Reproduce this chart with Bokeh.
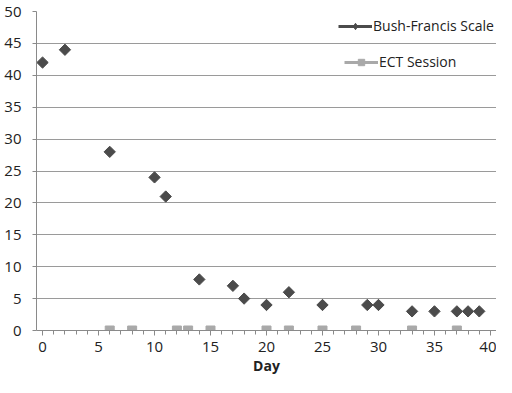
import math
from bokeh.plotting import figure
from bokeh.models import Range1d, Legend, LegendItem, ColumnDataSource, FixedTicker
from bokeh.embed import file_html
from bokeh.resources import INLINE

# Data
bf_days = [0, 2, 6, 10, 11, 14, 17, 18, 20, 22, 25, 29, 30, 33, 35, 37, 38, 39]
bf_scores = [42, 44, 28, 24, 21, 8, 7, 5, 4, 6, 4, 4, 4, 3, 3, 3, 3, 3]
ect_days = [6, 8, 12, 13, 15, 20, 22, 25, 28, 33, 37]
ect_values = [0] * len(ect_days)
x_ticks = [0, 5, 10, 15, 20, 25, 30, 35, 40]
y_ticks = [0, 5, 10, 15, 20, 25, 30, 35, 40, 45, 50]

DARK = "#4b4b4b"
LIGHT = "#a9a9a9"
FONT = "Open Sans"

p = figure(width=496, height=377, output_backend="svg", toolbar_location=None,
           x_range=Range1d(-0.54, 40.54), y_range=Range1d(0, 50),
           min_border_left=36, min_border_right=0, min_border_top=11, min_border_bottom=0)
p.outline_line_color = None
p.background_fill_color = "white"

p.xgrid.grid_line_color = None
p.ygrid.grid_line_color = "#9a9a9a"
p.ygrid.grid_line_width = 1
p.ygrid.ticker = FixedTicker(ticks=y_ticks)

p.xaxis.ticker = FixedTicker(ticks=x_ticks, minor_ticks=list(range(0, 41)))
p.yaxis.ticker = FixedTicker(ticks=y_ticks)
for ax in (p.xaxis[0], p.yaxis[0]):
    ax.axis_line_color = "#8a8a8a"
    ax.major_tick_line_color = "#8a8a8a"
    ax.minor_tick_line_color = "#8a8a8a"
    ax.major_tick_in = 0
    ax.minor_tick_in = 0
    ax.major_label_text_font = FONT
    ax.major_label_text_font_size = "15px"
    ax.major_label_text_color = "#222222"
p.xaxis.major_tick_out = 5
p.xaxis.minor_tick_out = 4
p.xaxis.major_label_standoff = 6
p.yaxis.major_tick_out = 4
p.yaxis.minor_tick_line_color = None
p.yaxis.major_label_standoff = 11
p.xaxis.axis_label = "Day"
p.xaxis.axis_label_text_font = FONT
p.xaxis.axis_label_text_font_style = "bold"
p.xaxis.axis_label_text_font_size = "14px"
p.xaxis.axis_label_text_color = "#222222"
p.xaxis.axis_label_standoff = 1

src_bf = ColumnDataSource(dict(x=bf_days, y=bf_scores))
src_ect = ColumnDataSource(dict(x=ect_days, y=ect_values))

p.scatter("x", "y", source=src_ect, marker="square", size=9,
          fill_color=LIGHT, line_color=LIGHT)
p.scatter("x", "y", source=src_bf, marker="square", size=8, angle=math.pi / 4,
          fill_color=DARK, line_color=DARK)

# legend-only renderers (placed outside the visible range)
off = ColumnDataSource(dict(x=[-100, -99], y=[-100, -100]))
l1 = p.line("x", "y", source=off, line_color=DARK, line_width=3)
m1 = p.scatter("x", "y", source=off, marker="diamond", size=9,
               fill_color=DARK, line_color=DARK)
l2 = p.line("x", "y", source=off, line_color=LIGHT, line_width=3)
m2 = p.scatter("x", "y", source=off, marker="square", size=9,
               fill_color=LIGHT, line_color=LIGHT)

def mk_legend(item, loc, gw):
    lg = Legend(items=[item], location=loc, padding=0, margin=0, spacing=0,
                border_line_color=None, background_fill_alpha=0,
                glyph_width=gw, glyph_height=16, label_standoff=1,
                label_text_font=FONT, label_text_font_size="14px",
                label_text_color="#222222", label_height=16)
    p.add_layout(lg, "center")

mk_legend(LegendItem(label="Bush-Francis Scale", renderers=[l1, m1]), (302, 295), 34)
mk_legend(LegendItem(label="ECT Session", renderers=[l2, m2]), (308, 259), 34)

open("out.html", "w").write(file_html(p, INLINE))
